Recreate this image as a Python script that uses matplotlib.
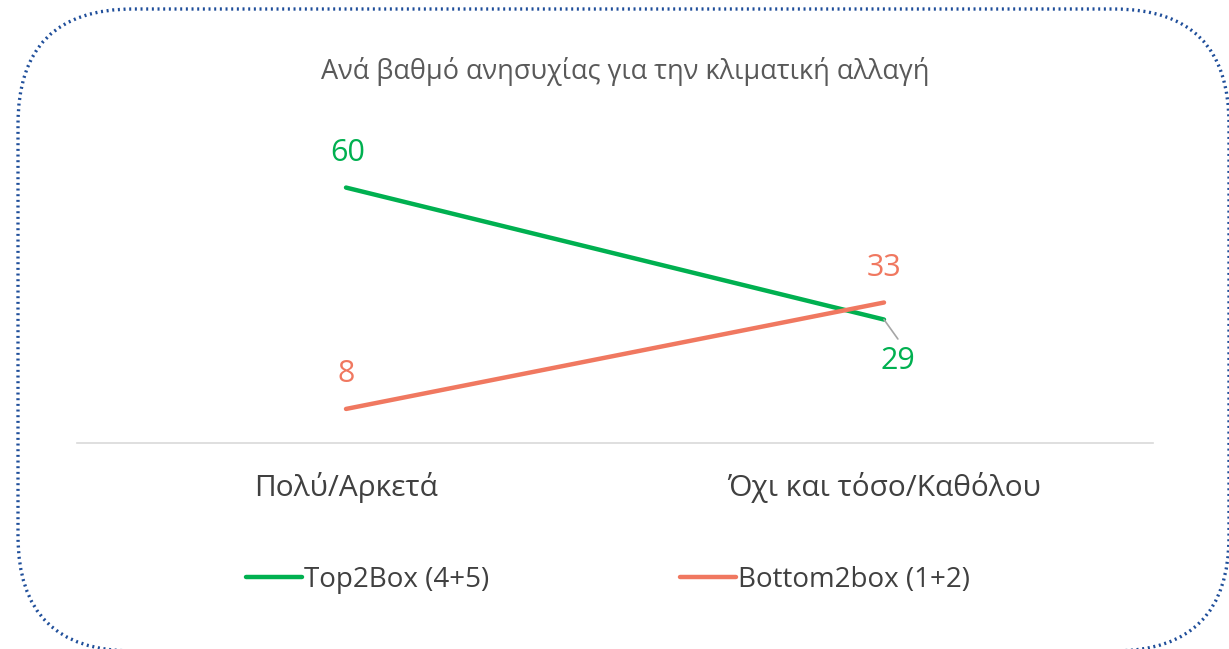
import matplotlib.pyplot as plt
from matplotlib.patches import FancyBboxPatch

plt.rcParams['font.family'] = ['Open Sans', 'DejaVu Sans']

# data
categories = ["Πολύ/Αρκετά", "Όχι και τόσο/Καθόλου"]
series_names = ["Top2Box (4+5)", "Bottom2box (1+2)"]
top2box = [60, 29]
bottom2box = [8, 33]
title = "Ανά βαθμό ανησυχίας για την κλιματική αλλαγή"

GREEN = "#00B050"
ORANGE = "#F07860"
W, H = 1229, 649

fig = plt.figure(figsize=(W / 100, H / 100), dpi=100)

# rounded dotted frame (bottom/right edges sit on the canvas border)
frame = FancyBboxPatch((0.18, -0.02), 12.11, 6.42,
                       boxstyle="round,pad=0,rounding_size=1.15",
                       transform=fig.dpi_scale_trans, fill=False,
                       edgecolor="#1F4E9A", linewidth=2.4, linestyle=(0, (0.6, 1.1)))
fig.patches.append(frame)

ax = fig.add_axes([77 / W, (H - 443) / H, (1153 - 77) / W, (443 - 145) / H])
ax.set_xlim(-0.5, 1.5)
ax.set_ylim(0, 70)
x = list(range(len(categories)))
l1, = ax.plot(x, top2box, color=GREEN, lw=3.2, solid_capstyle="round", label=series_names[0])
l2, = ax.plot(x, bottom2box, color=ORANGE, lw=3.2, solid_capstyle="round", label=series_names[1])

for s in ["top", "right", "left"]:
    ax.spines[s].set_visible(False)
ax.spines["bottom"].set_color("#D9D9D9")
ax.spines["bottom"].set_linewidth(1.2)
ax.set_yticks([])
ax.set_xticks(x)
ax.set_xticklabels(categories, fontsize=21.5, color="#404040")
ax.tick_params(axis="x", length=0, pad=21)

# data labels
lbl = dict(textcoords="offset points", ha="center", va="center", fontsize=22)
ax.annotate(str(top2box[0]), (x[0], top2box[0]), xytext=(1, 25), color=GREEN, **lbl)
ax.annotate(str(bottom2box[0]), (x[0], bottom2box[0]), xytext=(0, 25), color=ORANGE, **lbl)
ax.annotate(str(bottom2box[1]), (x[1], bottom2box[1]), xytext=(0, 25), color=ORANGE, **lbl)
ax.annotate(str(top2box[1]), (x[1], top2box[1]), xytext=(10, -30), color=GREEN, **lbl)
ax.annotate("", (x[1], top2box[1]), xytext=(10, -14), textcoords="offset points",
            arrowprops=dict(arrowstyle="-", color="#A6A6A6", lw=1.2, shrinkA=0, shrinkB=0))

fig.text(625 / W, 1 - 72 / H, title, ha="center", va="center", fontsize=19.5, color="#595959")

fig.legend(handles=[l1, l2], loc="center", bbox_to_anchor=(608 / W, 1 - 580 / H), ncol=2,
           frameon=False, fontsize=20, handlelength=2.0, handletextpad=0.07,
           columnspacing=6.9, labelcolor="#404040")

fig.savefig("out.png", dpi=100)
